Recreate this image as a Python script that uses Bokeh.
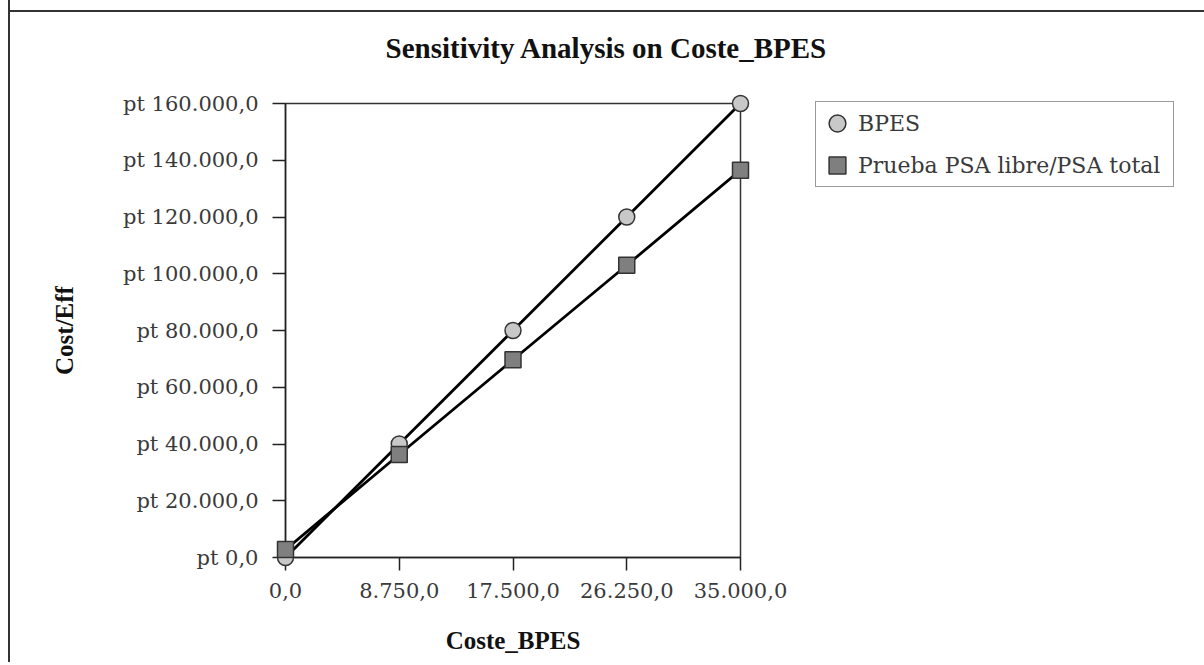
from bokeh.plotting import figure
from bokeh.models import Range1d, FixedTicker, Legend, LegendItem, Title
from bokeh.embed import file_html
from bokeh.resources import INLINE

# ---- data ----
coste_bpes = [0, 8750, 17500, 26250, 35000]
bpes = [0, 40000, 80000, 120000, 160000]
psa = [2800, 36300, 69700, 103000, 136500]

x_ticks = [0, 8750, 17500, 26250, 35000]
x_tick_labels = ["0,0", "8.750,0", "17.500,0", "26.250,0", "35.000,0"]
y_ticks = [0, 20000, 40000, 60000, 80000, 100000, 120000, 140000, 160000]
y_tick_labels = ["pt 0,0", "pt 20.000,0", "pt 40.000,0", "pt 60.000,0", "pt 80.000,0",
                 "pt 100.000,0", "pt 120.000,0", "pt 140.000,0", "pt 160.000,0"]
series_names = ["BPES", "Prueba PSA libre/PSA total"]

TICK_FONT = "DejaVu Serif"
BOLD_FONT = "Liberation Serif"

p = figure(width=1190, height=679, frame_width=455, frame_height=454,
           output_backend="svg", toolbar_location=None,
           x_range=Range1d(0, 35000), y_range=Range1d(0, 160000),
           min_border_left=275, min_border_right=460, min_border_top=120, min_border_bottom=105,
           background_fill_color="white", border_fill_color=None,
           styles={"margin-left": "8px", "margin-top": "-17px",
                   "border-left": "2px solid #333333",
                   "background": "linear-gradient(#333333, #333333) 0 27px / 100% 2px no-repeat, white"})

p.title = Title(text="Sensitivity Analysis on Coste_BPES", align="left", offset=100,
                vertical_align="bottom",
                text_font=BOLD_FONT, text_font_size="29px", text_font_style="bold",
                text_color="#111111", standoff=80)

p.outline_line_color = "#333333"
p.outline_line_width = 1.5
p.grid.visible = False

for ax in (p.xaxis[0], p.yaxis[0]):
    ax.axis_line_color = "#222222"
    ax.axis_line_width = 1.5
    ax.major_tick_line_color = "#222222"
    ax.major_tick_line_width = 1.5
    ax.major_tick_out = 13
    ax.major_tick_in = 0
    ax.minor_tick_line_color = None
    ax.major_label_text_font = TICK_FONT
    ax.major_label_text_font_size = "21px"
    ax.major_label_text_color = "#3a3a3a"
    ax.axis_label_text_font = BOLD_FONT
    ax.axis_label_text_font_size = "25px"
    ax.axis_label_text_font_style = "bold"
    ax.axis_label_text_color = "#111111"

p.xaxis.ticker = FixedTicker(ticks=x_ticks)
p.xaxis.major_label_overrides = {t: l for t, l in zip(x_ticks, x_tick_labels)}
p.xaxis.axis_label = "Coste_BPES"
p.xaxis.major_label_standoff = 12
p.xaxis.axis_label_standoff = 26

p.yaxis.ticker = FixedTicker(ticks=y_ticks)
p.yaxis.major_label_overrides = {t: l for t, l in zip(y_ticks, y_tick_labels)}
p.yaxis.axis_label = "Cost/Eff"
p.yaxis.major_label_standoff = 14
p.yaxis.axis_label_standoff = 42

p.line(coste_bpes, bpes, line_color="black", line_width=2.8)
p.line(coste_bpes, psa, line_color="black", line_width=2.8)
r1 = p.scatter(coste_bpes, bpes, marker="circle", size=16, fill_color="#c8c8c8",
               line_color="#333333", line_width=1.5, level="overlay")
r2 = p.scatter(coste_bpes, psa, marker="square", size=16, fill_color="#7f7f7f",
               line_color="#333333", line_width=1.5, level="overlay")

legend = Legend(items=[LegendItem(label=series_names[0], renderers=[r1]),
                       LegendItem(label=series_names[1], renderers=[r2])],
                location=(75, 370), border_line_color="#333333", border_line_width=1.5,
                padding=0, spacing=0, label_height=42, glyph_width=42, glyph_height=42,
                label_width=315, label_standoff=0, label_text_font=TICK_FONT,
                label_text_font_size="22px", label_text_color="#3a3a3a", margin=0,
                background_fill_color="white", background_fill_alpha=1)
p.add_layout(legend, "right")

open("out.html", "w").write(file_html(p, INLINE))
